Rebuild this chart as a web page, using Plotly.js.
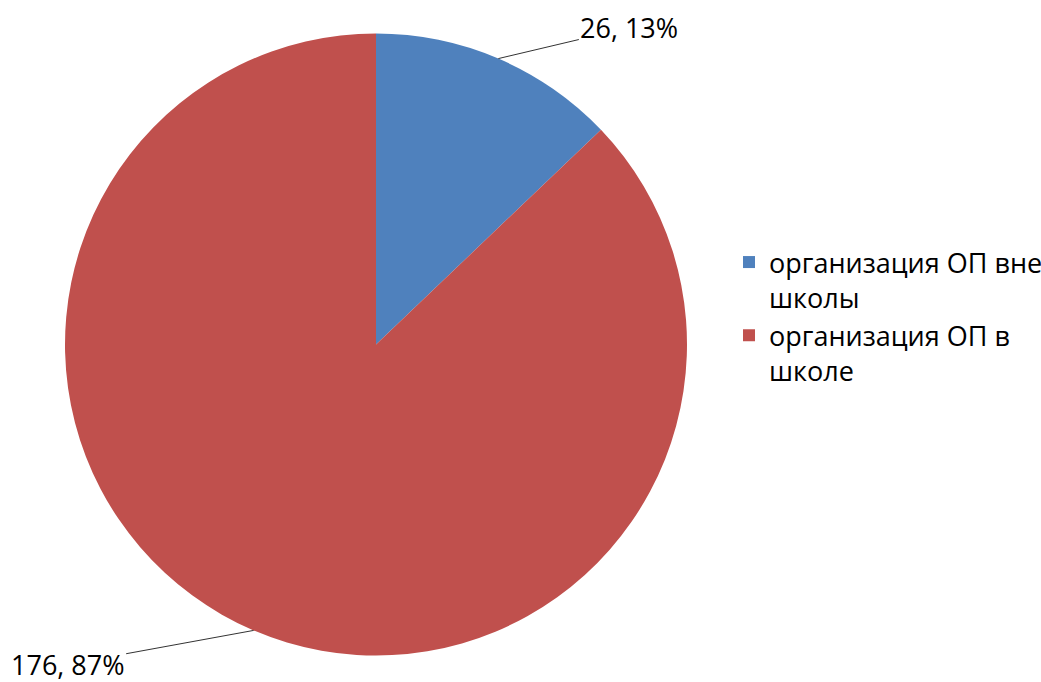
<!DOCTYPE html>
<html>
<head>
<meta charset="utf-8">
<script src="https://cdn.plot.ly/plotly-3.0.1.min.js"></script>
<style>html,body{margin:0;padding:0;background:#fff;}</style>
</head>
<body>
<div id="chart" style="width:1041px;height:682px;"></div>
<script>
const categories = ["организация ОП вне<br>школы", "организация ОП в<br>школе"];
const values = [26, 176];
const colors = ["#4F81BD", "#C0504D"];

const W = 1041, H = 682;
const domX = [65 / W, 687 / W];
const domY = [1 - 656 / H, 1 - 33 / H];
const R = 311;

const total = values.reduce((a, b) => a + b, 0);
const cx = (domX[0] + domX[1]) / 2, cy = (domY[0] + domY[1]) / 2;
const labelOffsets = [[131, -31], [-186, 34]];
let cum = 0;
const annotations = values.map((v, i) => {
  const mid = (cum + v / 2) / total * 2 * Math.PI;
  cum += v;
  return {
    xref: 'paper', yref: 'paper',
    x: cx + R * Math.sin(mid) / W,
    y: cy + R * Math.cos(mid) / H,
    ax: labelOffsets[i][0], ay: labelOffsets[i][1],
    text: v + ', ' + Math.round(v / total * 100) + '%',
    showarrow: true, arrowhead: 0, arrowwidth: 1, arrowcolor: '#333',
    standoff: 0,
    font: {family: 'Open Sans, Liberation Sans, sans-serif', size: 27, color: '#000'}
  };
});

Plotly.newPlot('chart', [{
  type: 'pie',
  labels: categories,
  values: values,
  marker: {colors: colors, line: {width: 0}},
  sort: false,
  direction: 'clockwise',
  rotation: 0,
  textinfo: 'none',
  hoverinfo: 'label+value+percent',
  domain: {x: domX, y: domY}
}], {
  width: W, height: H,
  margin: {l: 0, r: 0, t: 0, b: 0, autoexpand: false},
  paper_bgcolor: '#fff',
  showlegend: true,
  legend: {
    x: 729 / W, xanchor: 'left',
    y: 1 - 238 / H, yanchor: 'top',
    valign: 'top',
    font: {family: 'Open Sans, Liberation Sans, sans-serif', size: 27, color: '#000'},
    bgcolor: 'rgba(0,0,0,0)'
  },
  annotations: annotations
}, {displayModeBar: false, staticPlot: true});
</script>
</body>
</html>
